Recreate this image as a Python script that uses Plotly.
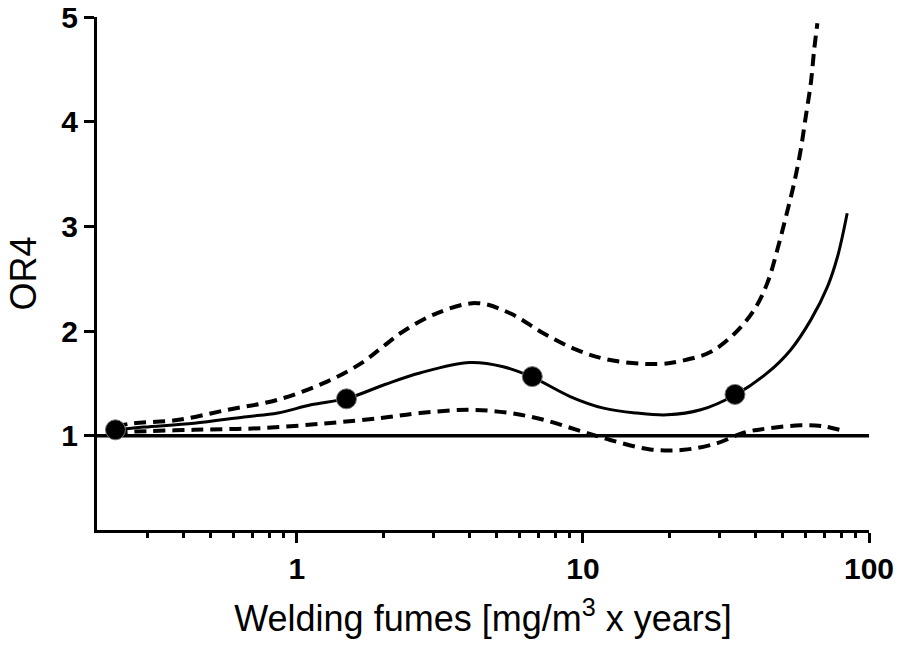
import math
import plotly.graph_objects as go

# Data
obs_x = [0.232, 1.49, 6.65, 34.0]
obs_y = [1.057, 1.353, 1.565, 1.395]

fit_x = [0.232, 0.292, 0.437, 0.654, 0.857, 1.12, 1.51, 2.03, 2.69, 4.02, 5.26,
         6.65, 9.02, 11.8, 15.4, 19.7, 25.8, 34.0, 44.1, 53.2, 62.6, 71.6, 77.6, 83.9]
fit_y = [1.057, 1.083, 1.12, 1.18, 1.217, 1.296, 1.36, 1.49, 1.60, 1.70, 1.66,
         1.56, 1.375, 1.264, 1.217, 1.20, 1.248, 1.39, 1.60, 1.82, 2.107, 2.425, 2.71, 3.126]

upper_x = [0.232, 0.269, 0.382, 0.572, 0.857, 1.28, 1.68, 1.97, 2.35, 3.08, 4.25, 5.56,
           7.27, 9.52, 12.45, 18.2, 22.5, 27.9, 33.7, 39.6, 44.1, 47.8, 51.2, 54.7,
           57.7, 60.1, 62.6, 64.3, 66.0]
upper_y = [1.09, 1.12, 1.15, 1.248, 1.344, 1.52, 1.694, 1.837, 1.996, 2.17, 2.267, 2.17,
           1.98, 1.82, 1.723, 1.685, 1.72, 1.80, 1.97, 2.20, 2.458, 2.776, 3.09, 3.41,
           3.73, 4.048, 4.367, 4.685, 4.94]

lower_x = [0.232, 0.269, 0.437, 0.749, 1.28, 1.97, 2.69, 4.02, 5.56, 7.27, 9.52, 12.45,
           17.2, 22.5, 29.5, 36.5, 44.1, 57.7, 69.5, 83.0]
lower_y = [1.03, 1.04, 1.057, 1.073, 1.12, 1.17, 1.217, 1.248, 1.217, 1.153, 1.057, 0.96,
           0.87, 0.866, 0.93, 1.03, 1.07, 1.10, 1.09, 1.04]

ref_x = [0.2, 100]
ref_y = [1, 1]

x_ticks = [1, 10, 100]
x_minor = [0.3, 0.4, 0.5, 0.6, 0.7, 0.8, 0.9, 2, 3, 4, 5, 6, 7, 8, 9,
           20, 30, 40, 50, 60, 70, 80, 90]
y_ticks = [1, 2, 3, 4, 5]

FONT = "Liberation Sans, Arial, sans-serif"

fig = go.Figure()
fig.add_trace(go.Scatter(x=ref_x, y=ref_y, mode="lines",
                         line=dict(color="black", width=3.5), showlegend=False))
fig.add_trace(go.Scatter(x=upper_x, y=upper_y, mode="lines", line_shape="spline",
                         line=dict(color="black", width=4, dash="12px,7px"), showlegend=False))
fig.add_trace(go.Scatter(x=lower_x, y=lower_y, mode="lines", line_shape="spline",
                         line=dict(color="black", width=4, dash="12px,7px"), showlegend=False))
fig.add_trace(go.Scatter(x=fit_x, y=fit_y, mode="lines", line_shape="spline",
                         line=dict(color="black", width=3), showlegend=False))
fig.add_trace(go.Scatter(x=obs_x, y=obs_y, mode="markers",
                         marker=dict(color="black", size=20, line=dict(color="#777", width=1)),
                         showlegend=False))

fig.update_layout(
    width=903, height=652,
    margin=dict(l=97, r=34, t=17, b=122),
    paper_bgcolor="white", plot_bgcolor="white",
    font=dict(family=FONT, color="black"),
    xaxis=dict(
        type="log", range=[math.log10(0.2), 2],
        showgrid=False, zeroline=False, automargin=False,
        showline=True, linecolor="black", linewidth=3,
        tickmode="array", tickvals=x_ticks, ticktext=["<b>1</b>", "<b>10</b>", "<b>100</b>"],
        ticks="outside", ticklen=10, tickwidth=3, tickcolor="black",
        tickfont=dict(size=30, family=FONT),
        minor=dict(tickvals=x_minor, ticks="outside", ticklen=5, tickwidth=3,
                   tickcolor="black", showgrid=False),
        title=dict(text="Welding fumes [mg/m<sup>3</sup> x years]",
                   font=dict(size=36, family=FONT), standoff=22),
    ),
    yaxis=dict(
        range=[0.1, 5],
        showgrid=False, zeroline=False, automargin=False,
        showline=True, linecolor="black", linewidth=3,
        tickmode="array", tickvals=y_ticks, ticktext=["<b>%d</b>" % v for v in y_ticks],
        ticks="outside", ticklen=10, tickwidth=3, tickcolor="black",
        tickfont=dict(size=30, family=FONT),
        title=dict(text="OR4", font=dict(size=36, family=FONT), standoff=14),
    ),
)

fig.write_html("out.html")
